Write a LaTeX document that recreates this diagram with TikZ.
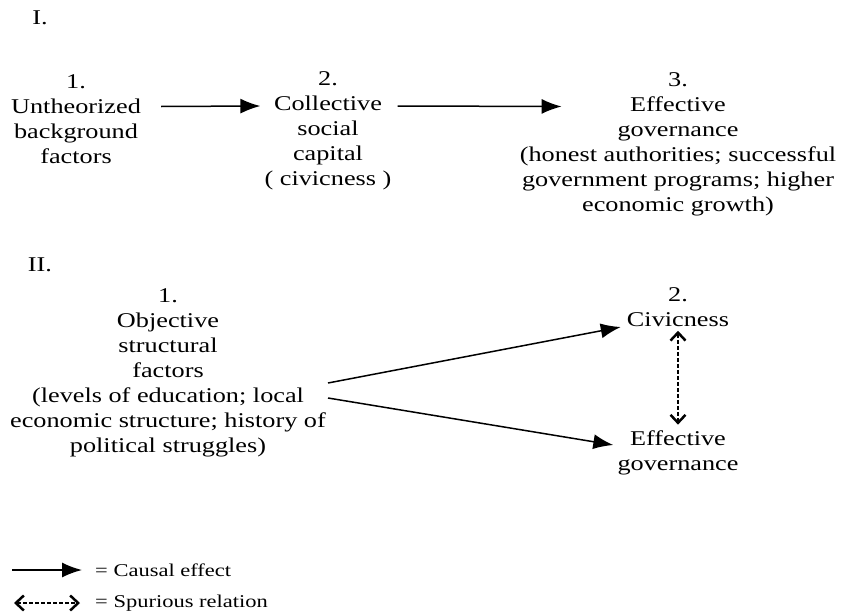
\documentclass[tikz,border=0pt]{standalone}
\usepackage{fontspec}
\setmainfont{Liberation Serif}[FakeStretch=1.25]
\usetikzlibrary{arrows.meta}
\begin{document}
\begin{tikzpicture}[x=1pt,y=-1pt,
  txt/.style={align=center,inner sep=0pt,font=\fontsize{21}{25}\selectfont},
  lbl/.style={inner sep=0pt,font=\fontsize{21}{25}\selectfont},
  leg/.style={inner sep=0pt,anchor=west,font=\fontsize{18}{22}\selectfont},
  causal/.style={line width=1.5pt,-{Latex[length=20pt,width=15pt]}},
  spur/.style={line width=1.3pt,dash pattern=on 4pt off 2pt,{Straight Barb[length=8pt,width=15pt,line width=2.5pt]}-{Straight Barb[length=8pt,width=15pt,line width=2.5pt]}}
  ]
\useasboundingbox (0,0) rectangle (846,613);
\node[lbl] (I) at (40,18) {I.};
\node[txt] (a1) at (76,119) {1.\\Untheorized\\background\\factors};
\node[txt] (a2) at (328,131) {2.\\Collective\\social\\capital\\( civicness )};
\node[txt] (a3) at (678,144) {3.\\Effective\\governance\\(honest authorities; successful\\government programs; higher\\economic growth)};
\draw[causal] ([xshift=20pt,yshift=12.5pt]a1.east) -- ([xshift=-4pt,yshift=25pt]a2.west);
\draw[causal] ([xshift=6pt,yshift=25pt]a2.east) -- ([xshift=42pt,yshift=37.5pt]a3.west);
\node[lbl] (II) at (40,265) {II.};
\node[txt] (b1) at (168,373) {1.\\Objective\\structural\\factors\\(levels of education; local\\economic structure; history of\\political struggles)};
\node[txt] (b2) at (678,307) {2.\\Civicness};
\node[txt] (b3) at (678,453) {Effective\\governance};
\draw[causal] ([xshift=2pt,yshift=-10pt]b1.east) -- ([xshift=-6pt,yshift=-20pt]b2.west);
\draw[causal] ([xshift=2pt,yshift=-25pt]b1.east) -- ([xshift=-4pt,yshift=8pt]b3.west);
\draw[spur] ([yshift=-4pt]b2.south) -- ([yshift=6pt]b3.north);
\coordinate (c1) at (12,570);
\coordinate (c2) at (82,570);
\draw[causal] (c1) -- (c2);
\node[leg] (l1) at (95,570) {= Causal effect};
\coordinate (d1) at (14,603);
\coordinate (d2) at (80,603);
\draw[spur] (d1) -- (d2);
\node[leg] (l2) at (95,603) {= Spurious relation};
\end{tikzpicture}
\end{document}
